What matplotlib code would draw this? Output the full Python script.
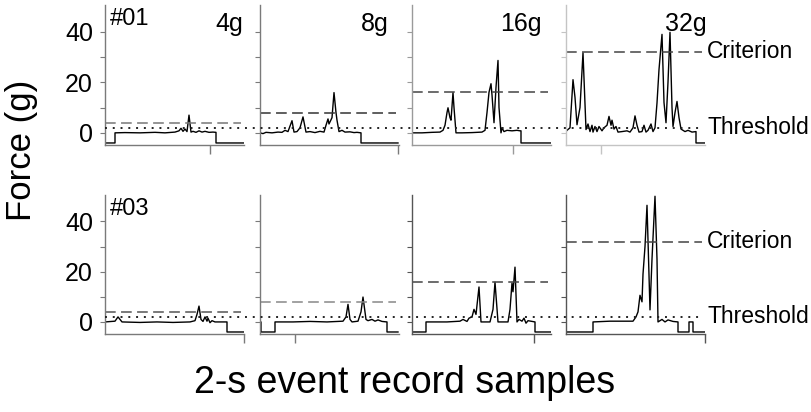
import matplotlib
matplotlib.use('Agg')
import matplotlib.pyplot as plt
import matplotlib.transforms as mtrans

plt.rcParams['font.family'] = ['Liberation Sans', 'DejaVu Sans']

# ---------------- data ----------------
subjects = ['#01', '#03']
criteria = [4, 8, 16, 32]
criterion_labels = ['4g', '8g', '16g', '32g']
threshold = 2
y_ticks = [0, 20, 40]
y_minor_ticks = [10, 30]

# subject #01 traces (x = samples, y = force in g)
s01_4g_x = [0, 10, 10, 20, 35, 50, 60, 70, 74, 76, 78, 80, 82, 84, 86, 88, 91, 94, 97, 100, 104, 108, 111, 111, 139]
s01_4g_y = [-4, -4, 0, 0.1, 0, 0.2, 0, 0.3, 0.8, 1.8, 0.6, 1.5, 0.5, 7.0, 0.3, 0.6, 0.2, 0.8, 0.3, 0.6, 0.2, 0.3, 0.2, -4, -4]

s01_8g_x = [0, 3, 6, 12, 18, 22, 25, 28, 32, 34, 37, 40, 43, 46, 50, 55, 60, 64, 66, 68, 69, 72, 74, 76, 77, 79, 82, 85, 90, 94, 97, 101, 101, 138]
s01_8g_y = [0, -0.3, 0.2, 0, 0.3, 0.2, 1.0, 0.5, 4.8, 0.3, 0.5, 2.0, 6.3, 0.3, 0.5, 0.1, 0.6, 0.3, 3.0, 5.5, 3.5, 6.0, 15.9, 8.0, 5.0, 0.5, 1.0, 0.3, 0.4, 0.1, 0.2, 0, -4, -4]

s01_16g_x = [0, 10, 20, 28, 31, 33, 35, 36, 38, 39, 41, 42, 44, 50, 60, 70, 73, 75, 77, 79, 80, 82, 84, 86, 87, 89, 90, 92, 95, 100, 105, 108, 109, 109, 139]
s01_16g_y = [0, 0, 0.2, 0.3, 1.0, 3.0, 8.0, 9.9, 6.0, 5.0, 15.9, 10.0, 0, 0, 0.1, 0.3, 1.0, 8.0, 16.0, 19.4, 15.0, 4.0, 18.0, 28.6, 10.0, 0, 2.0, 0.5, 1.0, 0.8, 1.0, 0.8, 0.8, -4, -4]

s01_32g_x = [0, 1, 4, 7, 9, 11, 14, 17, 20, 22, 24, 26, 27, 29, 31, 33, 36, 38, 41, 43, 45, 46, 48, 50, 52, 56, 61, 64, 67, 69, 71, 73, 76, 78, 80, 82, 85, 87, 89, 91, 93, 96, 98, 100, 102, 104, 106, 107, 109, 111, 113, 115, 117, 119, 122, 126, 130, 130, 139]
s01_32g_y = [0.5, 1.0, 2.0, 21.0, 14.0, 3.2, 10.0, 31.6, 1.3, 3.5, 0.5, 3.0, 0.3, 2.5, 0.5, 2.5, 0.8, 2.0, 3.0, 6.5, 3.0, 5.0, 1.5, 2.5, 0.3, 0.5, 0.8, 0.3, 2.0, 6.7, 3.0, 0.3, 0.5, 3.0, 0.3, 1.0, 3.5, 0.5, 2.0, 11.8, 25.0, 38.9, 12.0, 4.0, 20.0, 39.7, 10.0, 2.5, 8.0, 12.4, 6.0, 1.5, 1.0, 0.5, 1.0, 0.3, 0.5, -4, -4]

# subject #03 traces
s03_4g_x = [0, 10, 13, 17, 35, 52, 68, 85, 90, 92, 94, 96, 98, 100, 102, 103, 105, 107, 110, 122, 122, 139]
s03_4g_y = [0, 0.3, 2.0, 0, -0.2, 0, -0.2, 0, 0.5, 3.0, 6.3, 1.0, 0.2, 2.0, 0.3, 1.5, -0.3, 0.5, 0, 0, -4, -4]

s03_8g_x = [0, 1, 1, 15, 15, 33, 50, 67, 83, 86, 88, 90, 92, 98, 101, 103, 106, 108, 112, 115, 118, 122, 127, 127, 138]
s03_8g_y = [0, 0, -4, -4, 0, 0, 0.2, 0, 0.3, 2.0, 7.0, 1.0, 0, 0.3, 4.0, 9.9, 1.0, 0.5, 1.0, 0.3, 0.8, 0.2, 0, -4, -4]

s03_16g_x = [0, 14, 14, 18, 35, 48, 51, 55, 57, 60, 62, 64, 67, 69, 78, 81, 83, 86, 96, 98, 100, 101, 103, 105, 107, 110, 112, 114, 116, 123, 123, 139]
s03_16g_y = [-4, -4, 0, 0, 0, 0.3, 1.0, 0.2, 1.5, 2.0, 5.0, 3.0, 13.9, 0, 0, 5.0, 15.8, 0, 0, 5.0, 15.5, 12.0, 21.8, 0, 1.0, 0.3, 1.5, -0.5, 0.5, 0, -4, -4]

s03_32g_x = [0, 27, 27, 44, 67, 70, 72, 74, 76, 77, 79, 81, 84, 86, 89, 91, 92, 96, 99, 102, 107, 112, 112, 123, 123, 127, 127, 139]
s03_32g_y = [-4, -4, 0, 0.3, 0.3, 2.0, 4.0, 10.6, 8.0, 19.0, 30.0, 46.4, 4.8, 25.0, 50.0, 25.0, 0, 1.0, 0, 0.8, 0.2, 0, -4, -4, 0, 0, -4, -4]

traces_x = [[s01_4g_x, s01_8g_x, s01_16g_x, s01_32g_x],
            [s03_4g_x, s03_8g_x, s03_16g_x, s03_32g_x]]
traces_y = [[s01_4g_y, s01_8g_y, s01_16g_y, s01_32g_y],
            [s03_4g_y, s03_8g_y, s03_16g_y, s03_32g_y]]

# position of the single event tick on each x axis (samples)
event_ticks = [[105, 138, 101, 35],
               [139, 35, 122, 139]]

# ---------------- layout ----------------
W, H = 811, 412
fig = plt.figure(figsize=(W / 100, H / 100), dpi=100)

col_left = [105, 260, 412, 566]
col_w = 139
row_span = [(5, 145), (195, 334)]
spine_col = [['#7a7a7a', '#7a7a7a', '#9a9a9a', '#c4c4c4'],
             ['#7a7a7a', '#7a7a7a', '#555555', '#555555']]
dash_col = [['#777777', '#333333', '#444444', '#444444'],
            ['#555555', '#888888', '#444444', '#444444']]

for r in range(2):
    top, bot = row_span[r]
    row_axes = []
    for c in range(4):
        ax = fig.add_axes([col_left[c] / W, 1 - bot / H, col_w / W, (bot - top) / H])
        row_axes.append(ax)
        ax.plot(traces_x[r][c], traces_y[r][c], color='black', lw=1.0)
        ax.plot([0, 136], [criteria[c], criteria[c]], color=dash_col[r][c],
                lw=1.1, linestyle=(0, (7, 3.5)))
        ax.set_xlim(0, 139)
        ax.set_ylim(-4.8, 50.5)
        for s in ['top', 'right']:
            ax.spines[s].set_visible(False)
        for s in ['left', 'bottom']:
            ax.spines[s].set_color(spine_col[r][c])
            ax.spines[s].set_linewidth(1.0)
        ax.set_xticks([event_ticks[r][c]])
        ax.set_xticklabels([])
        ax.tick_params(axis='x', direction='out', length=6.5, width=1.0,
                       color=spine_col[r][c])
        ax.set_yticks(y_ticks)
        ax.set_yticks(y_minor_ticks, minor=True)
        ax.tick_params(axis='y', which='both', direction='out', length=3.6,
                       width=0.8, color=spine_col[r][c], labelsize=18, pad=5)
        if c != 0:
            ax.set_yticklabels([])
        if r == 0:
            xr = [0.993, 0.928, 0.929, 1.014][c]
            ax.text(xr, 0.815, criterion_labels[c], transform=ax.transAxes,
                    ha='right', va='baseline', fontsize=18)
        if c == 0:
            ax.text(0.035, 0.90, subjects[r], transform=ax.transAxes,
                    ha='left', va='center', fontsize=17)
        if c == 3:
            ax.text(140.5, criteria[c], 'Criterion', ha='left', va='center',
                    fontsize=16.5, clip_on=False)
            ax.text(142, threshold, 'Threshold', ha='left', va='center',
                    fontsize=16.5, clip_on=False)
    # continuous dotted threshold line across the row
    tr = mtrans.blended_transform_factory(fig.transFigure, row_axes[0].transData)
    fig.add_artist(plt.Line2D([105 / W, 703 / W], [threshold, threshold],
                              transform=tr, color='#222222', lw=1.4,
                              linestyle=(0, (1, 3))))

fig.text(21 / W, 1 - 150 / H, 'Force (g)', rotation=90, ha='center',
         va='center', fontsize=25)
fig.text(405 / W, 1 - 383 / H, '2-s event record samples', ha='center',
         va='center', fontsize=27)

fig.savefig('out.png', dpi=100)
